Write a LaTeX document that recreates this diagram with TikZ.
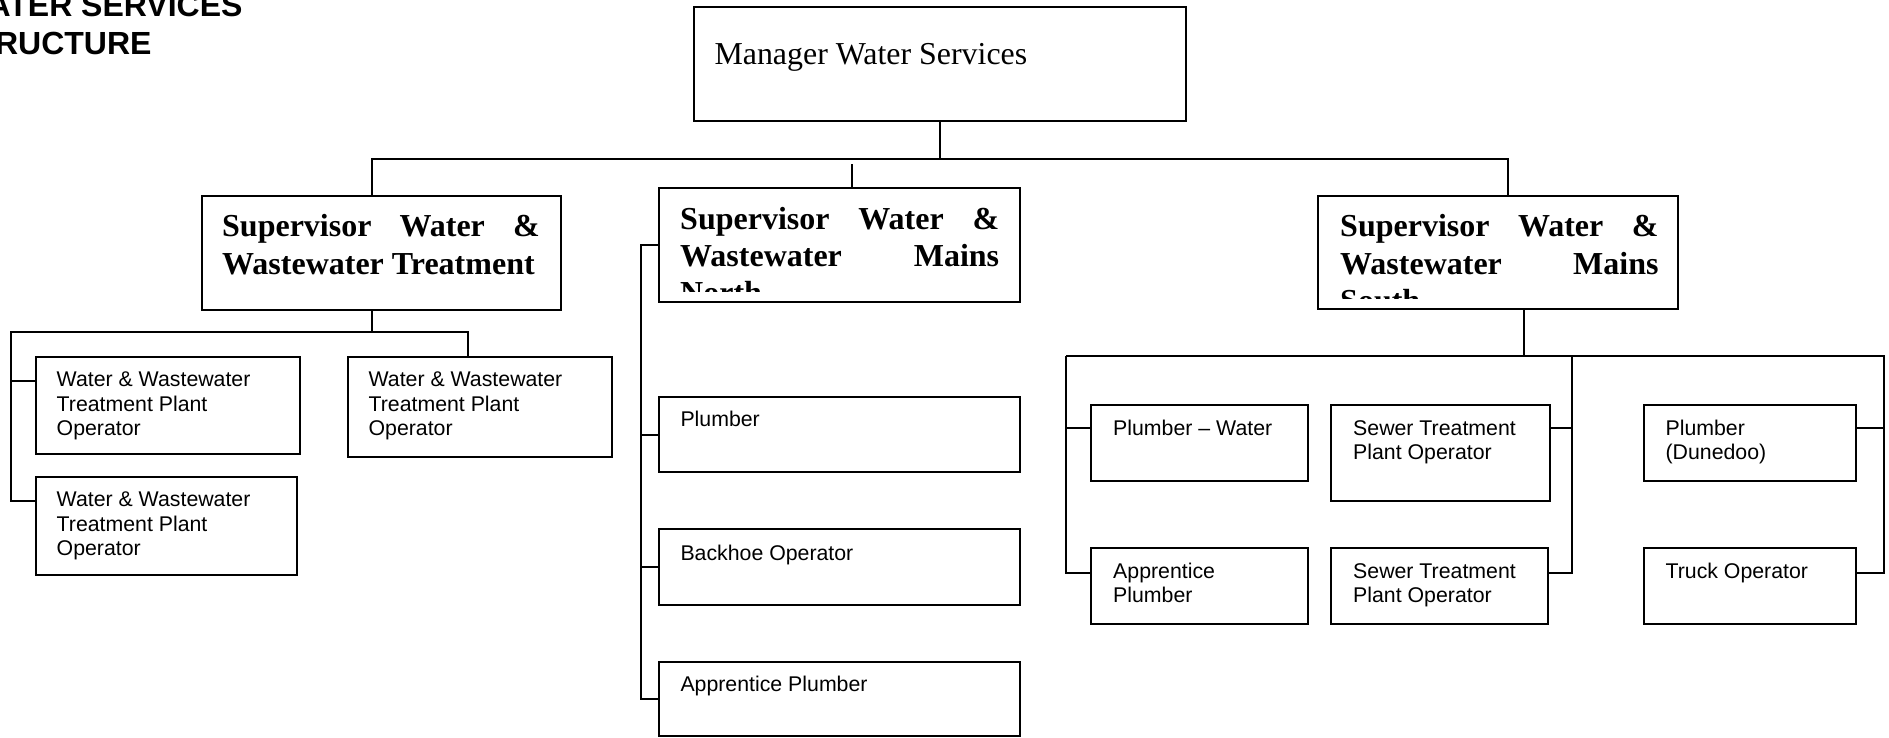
\documentclass[tikz,border=0pt]{standalone}
\usepackage{fontspec}
\setmainfont{Liberation Serif}
\newfontfamily\arialfont[Ligatures=TeX]{Liberation Sans}
\newcommand\rowsof[1]{\begin{tabular}[t]{@{}l@{}}#1\end{tabular}}
\newcommand\jline[2]{\makebox[#1][s]{#2}}
\begin{document}
\begin{tikzpicture}[x=1pt,y=-1pt,
  box/.style={draw, line width=2pt, inner sep=0pt, outer sep=0pt, anchor=north west},
  conn/.style={line width=2pt},
  subtxt/.style={inner sep=0pt, anchor=base west, font=\arialfont\fontsize{21.3pt}{24.4pt}\selectfont},
  suptxt/.style={inner sep=0pt, anchor=base west, font=\bfseries\fontsize{32pt}{37.3pt}\selectfont},
  mgrtxt/.style={inner sep=0pt, anchor=base west, font=\fontsize{31.9pt}{36pt}\selectfont},
  titletxt/.style={inner sep=0pt, anchor=base east, font=\arialfont\bfseries\fontsize{32pt}{37pt}\selectfont}]
\useasboundingbox (0,0) rectangle (1889,737);
\fill[white] (0,0) rectangle (1889,737);
\clip (0,0) rectangle (1889,737);

% title
\node[titletxt] (title1) at (242.7,16.7) {ATER SERVICES};
\node[titletxt] (title2) at (151.7,54.3) {RUCTURE};

% boxes
\node[box, minimum width=492.8, minimum height=113.4] (mgr) at (693.6,7.3) {};
\node[box, minimum width=359.4, minimum height=114] (st) at (201.6,196) {};
\node[box, minimum width=361, minimum height=113.4] (sn) at (659,188.3) {};
\node[box, minimum width=360, minimum height=113.3] (ss) at (1318.3,196) {};

\node[box, minimum width=264, minimum height=97.6] (t1) at (35.6,356.7) {};
\node[box, minimum width=264.1, minimum height=100] (t2) at (347.8,356.7) {};
\node[box, minimum width=261.6, minimum height=98.3] (t3) at (35.6,476.7) {};

\node[box, minimum width=360.7, minimum height=75] (np) at (659.3,397.3) {};
\node[box, minimum width=360.7, minimum height=75.7] (nb) at (659.3,529.3) {};
\node[box, minimum width=360.7, minimum height=73.7] (na) at (659.3,662.3) {};

\node[box, minimum width=216.6, minimum height=76] (spw) at (1091.4,404.7) {};
\node[box, minimum width=216.6, minimum height=76] (sap) at (1091.4,548.3) {};
\node[box, minimum width=218.7, minimum height=96] (ssw1) at (1331.3,404.7) {};
\node[box, minimum width=216.5, minimum height=76] (ssw2) at (1331.3,548.3) {};
\node[box, minimum width=212.3, minimum height=76] (spd) at (1643.7,404.7) {};
\node[box, minimum width=212.3, minimum height=76] (str) at (1643.7,548.3) {};

% texts
\node[mgrtxt] (mgrt) at (714.3,64) {Manager Water Services};
\node[suptxt] (stt) at (222,236.7) {\rowsof{\jline{317.5pt}{Supervisor Water \&}\\Wastewater Treatment}};
\begin{scope}
  \clip (659,188.3) rectangle (1020,291);
  \node[suptxt] (snt) at (680,229) {\rowsof{\jline{319pt}{Supervisor Water \&}\\\jline{319pt}{Wastewater Mains}\\North}};
\end{scope}
\begin{scope}
  \clip (1318.3,196) rectangle (1678.3,298);
  \node[suptxt] (sst) at (1340,236.7) {\rowsof{\jline{318.3pt}{Supervisor Water \&}\\\jline{318.3pt}{Wastewater Mains}\\South}};
\end{scope}

\node[subtxt] (t1t) at (56.5,386.7) {\rowsof{Water \& Wastewater\\Treatment Plant\\Operator}};
\node[subtxt] (t2t) at (368.4,386.7) {\rowsof{Water \& Wastewater\\Treatment Plant\\Operator}};
\node[subtxt] (t3t) at (56.5,506.7) {\rowsof{Water \& Wastewater\\Treatment Plant\\Operator}};

\node[subtxt] (npt) at (680.3,426.7) {Plumber};
\node[subtxt] (nbt) at (680.3,560) {Backhoe Operator};
\node[subtxt] (nat) at (680.3,691.7) {Apprentice Plumber};

\node[subtxt] (spwt) at (1113,435) {Plumber \textendash{} Water};
\node[subtxt] (sapt) at (1113,578.3) {\rowsof{Apprentice\\Plumber}};
\node[subtxt] (ssw1t) at (1353,435) {\rowsof{Sewer Treatment\\Plant Operator}};
\node[subtxt] (ssw2t) at (1353,578.3) {\rowsof{Sewer Treatment\\Plant Operator}};
\node[subtxt] (spdt) at (1665.4,435) {\rowsof{Plumber\\(Dunedoo)}};
\node[subtxt] (strt) at (1665.4,578.3) {Truck Operator};

% top level connectors
\coordinate (j0) at (940,159);
\coordinate (bL) at (371.5,159);
\coordinate (bR) at (1508.3,159);
\draw[conn] (mgr.south) -- (j0);
\draw[conn] (bL |- st.north) -- (bL) -- (bR) -- (bR |- ss.north);
\coordinate (ns) at (851.8,164);
\draw[conn] (ns) -- (ns |- sn.north);

% treatment subtree
\coordinate (tj) at (371.5,332.3);
\coordinate (tbl) at (11,332.3);
\coordinate (tbr) at (467.6,332.3);
\coordinate (tl1) at (11,381);
\coordinate (tl2) at (11,501);
\draw[conn] (tj |- st.south) -- (tj);
\draw[conn] (tbr |- t2.north) -- (tbr) -- (tbl) -- (tl2) -- (tl2 -| t3.west);
\draw[conn] (tl1) -- (tl1 -| t1.west);

% north subtree
\coordinate (nv0) at (640.7,245);
\coordinate (nv3) at (640.7,699.2);
\draw[conn] (sn.west) -- (nv0 |- sn.west) -- (nv3 |- na.west) -- (na.west);
\draw[conn] (np.west) -- (nv0 |- np.west);
\draw[conn] (nb.west) -- (nv0 |- nb.west);

% south subtree
\coordinate (sj) at (1524,356);
\coordinate (sbl) at (1066,356);
\coordinate (sbr) at (1884.6,356);
\draw[conn] (sj |- ss.south) -- (sj);
\draw[conn] (sbl) -- (sbr);
\coordinate (sl1) at (1066,427.7);
\coordinate (sl2) at (1066,572.7);
\draw[conn] (sbl) -- (sl2) -- (sl2 -| sap.west);
\draw[conn] (sl1) -- (sl1 -| spw.west);
\coordinate (sm0) at (1571.7,356);
\coordinate (sm1) at (1571.7,427.7);
\coordinate (sm2) at (1571.7,572.7);
\draw[conn] (sm0) -- (sm2) -- (sm2 -| ssw2.east);
\draw[conn] (sm1) -- (sm1 -| ssw1.east);
\coordinate (sr0) at (1883.5,356);
\coordinate (sr1) at (1883.5,427.7);
\coordinate (sr2) at (1883.5,572.7);
\draw[conn] (sr0) -- (sr2) -- (sr2 -| str.east);
\draw[conn] (sr1) -- (sr1 -| spd.east);
\end{tikzpicture}
\end{document}
